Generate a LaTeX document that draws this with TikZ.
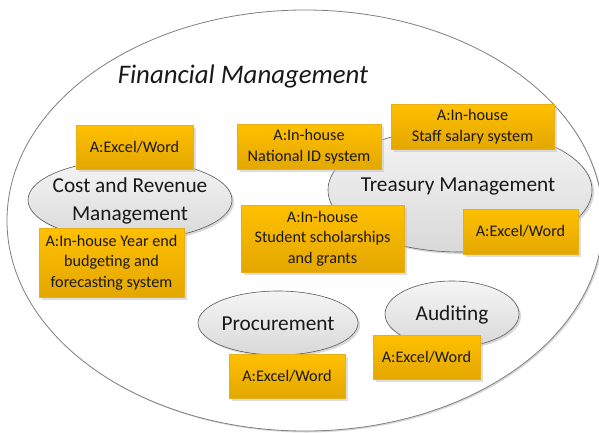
\documentclass[tikz,border=0pt]{standalone}
\usepackage{fontspec}
\setmainfont{Carlito}
\usepackage{xcolor}
\usetikzlibrary{shapes.geometric, shadows, positioning}

\definecolor{boxtop}{HTML}{FFC000}
\definecolor{boxbot}{HTML}{E3A700}
\definecolor{ringline}{HTML}{7F7F7F}

\begin{document}
\begin{tikzpicture}[
    x=1pt, y=-1pt,
    every node/.style={text=black!90},
    func/.style={ellipse, draw=black!65, line width=0.6pt, top color=black!4, bottom color=black!15, inner sep=0pt, drop shadow={shadow xshift=2pt, shadow yshift=-2pt, fill=black!30, opacity=0.5}},
    functext/.style={font=\fontsize{21.3}{28}\selectfont, align=center, inner sep=0pt},
    toolbox/.style={rectangle, draw=boxbot!90, line width=0.3pt, top color=boxtop, bottom color=boxbot, inner sep=0pt, font=\fontsize{16.2}{20.5}\selectfont, align=center, drop shadow={shadow xshift=3pt, shadow yshift=-3pt, fill=black!25, opacity=0.5}},
    outer/.style={ellipse, draw=ringline, line width=0.8pt, fill=white, inner sep=0pt, drop shadow={shadow xshift=1.5pt, shadow yshift=-1.5pt, fill=black!30, opacity=0.5}}
]
\useasboundingbox (0,0) rectangle (599,432);

% Outer area
\node[outer, minimum width=596pt, minimum height=421pt] (fm) at (305,220.5) {};
\node[font=\fontsize{26.8}{30}\selectfont\itshape] (fmlabel) at (243,76) {Financial Management};

% Functional areas
\node[func, minimum width=204pt, minimum height=80pt] (cost) at (130,200) {};
\node[func, minimum width=264pt, minimum height=124pt] (treasury) at (460,190) {};
\node[func, minimum width=160pt, minimum height=64pt] (procure) at (278,323) {};
\node[func, minimum width=134pt, minimum height=66pt] (audit) at (452,314) {};
\node[functext] (costtext) at (130,201) {Cost and Revenue\\Management};
\node[functext] (treasurytext) at (458,186) {Treasury Management};
\node[functext] (procuretext) at (278,324) {Procurement};
\node[functext] (audittext) at (452,315) {Auditing};

% Applications - cost and revenue
\node[toolbox, minimum width=117pt, minimum height=44pt] (costexcel) at (134.5,147) {A:Excel/Word};
\node[toolbox, minimum width=145pt, minimum height=69pt] (costbudget) at (111.5,262.5) {A:In-house Year end\\budgeting and\\forecasting system};

% Applications - treasury
\node[toolbox, minimum width=144pt, minimum height=45pt] (natid) at (309,146.5) {A:In-house\\National ID system};
\node[toolbox, minimum width=163pt, minimum height=45pt] (salary) at (472.5,126.5) {A:In-house\\Staff salary system};
\node[toolbox, minimum width=163pt, minimum height=67pt] (scholar) at (322.5,238.5) {A:In-house\\Student scholarships\\and grants};
\node[toolbox, minimum width=115pt, minimum height=45pt] (treasexcel) at (520.5,231.5) {A:Excel/Word};

% Applications - procurement and auditing
\node[toolbox, minimum width=116pt, minimum height=44pt] (procexcel) at (287,376) {A:Excel/Word};
\node[toolbox, minimum width=107pt, minimum height=44pt] (auditexcel) at (426.5,357) {A:Excel/Word};

\end{tikzpicture}
\end{document}
